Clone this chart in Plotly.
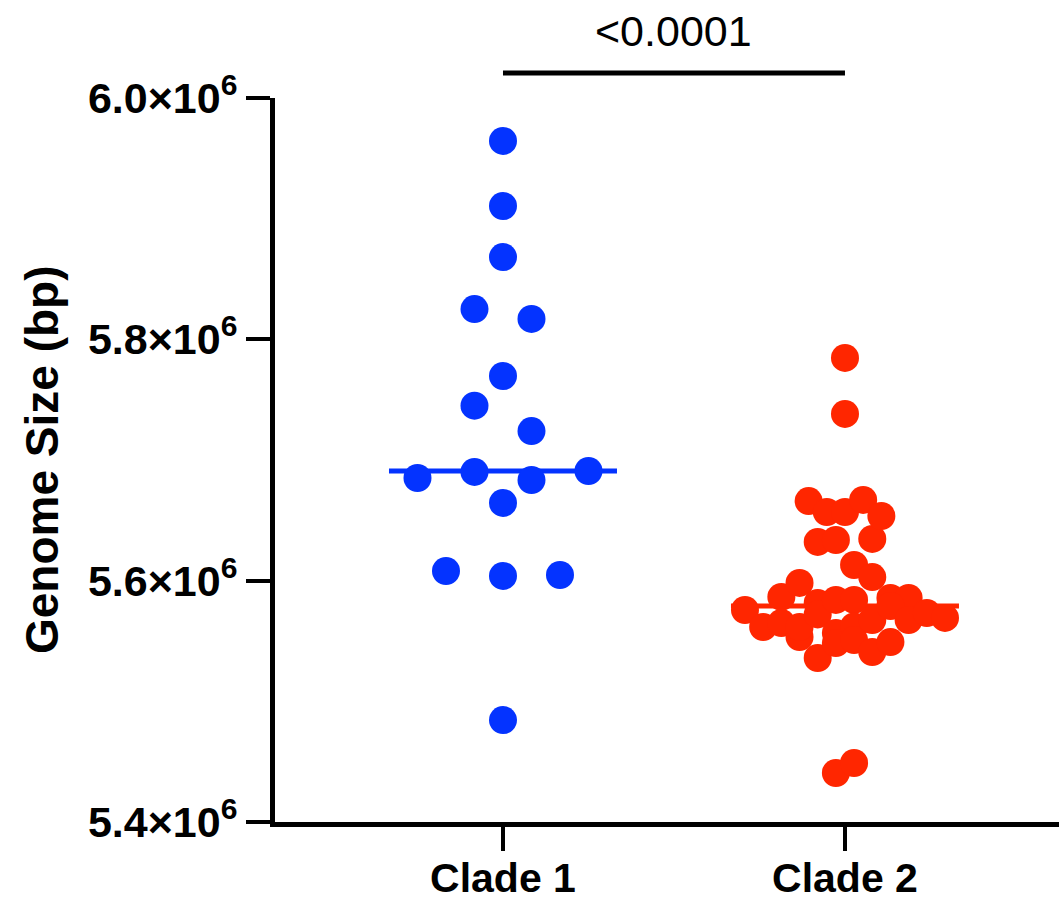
import numpy as np
import plotly.graph_objects as go

# ---------------- data ----------------
categories = ["Clade 1", "Clade 2"]
clade1_bp = [5.6851e6, 5.6080e6, 5.8251e6, 5.7450e6, 5.6901e6, 5.6644e6,
             5.9644e6, 5.9105e6, 5.8682e6, 5.7696e6, 5.6039e6, 5.4845e6,
             5.8169e6, 5.7240e6, 5.6834e6, 5.6047e6, 5.6909e6]
clade2_bp = [5.5757e6, 5.5616e6, 5.5649e6, 5.5865e6, 5.5533e6, 5.5981e6,
             5.5815e6, 5.5616e6, 5.5720e6, 5.6660e6, 5.5359e6, 5.5840e6,
             5.6321e6, 5.6569e6, 5.5840e6, 5.5566e6, 5.4406e6, 5.7846e6,
             5.7382e6, 5.6569e6, 5.6337e6, 5.6130e6, 5.6030e6, 5.5483e6,
             5.4489e6, 5.5620e6, 5.6669e6, 5.6346e6, 5.6536e6, 5.5508e6,
             5.5857e6, 5.5409e6, 5.5857e6, 5.5674e6, 5.5790e6, 5.5491e6,
             5.5674e6, 5.5732e6, 5.5691e6]
p_value_label = "<0.0001"
y_tickvals = [5.4e6, 5.6e6, 5.8e6, 6.0e6]
y_ticktext = ["5.4×10<sup>6</sup>", "5.6×10<sup>6</sup>", "5.8×10<sup>6</sup>", "6.0×10<sup>6</sup>"]
y_title = "Genome Size (bp)"

# ---------------- style ----------------
colors = ["#0433FF", "#FF2600"]
FONT = "Liberation Sans, Arial, sans-serif"
W, H = 1059, 902
ML, MR, MT, MB = 275, 0, 98, 80
X_RANGE = [1 / 3, 2.6258]
Y_RANGE = [5.4e6, 6.0e6]
MARKER = 28

plot_w = W - ML - MR
plot_h = H - MT - MB
px_per_xunit = plot_w / (X_RANGE[1] - X_RANGE[0])
px_per_yunit = plot_h / (Y_RANGE[1] - Y_RANGE[0])

row_h = 28.5 / px_per_yunit          # row height in data units (~ one marker)
max_step = 57 / px_per_xunit          # widest spacing between neighbours
half_spread = 100 / px_per_xunit      # max half-width of a swarm
med_half = 114 / px_per_xunit         # half-length of median bar


def swarm(values, center):
    """GraphPad-like row scatter: group values in rows, spread each row symmetrically."""
    vals = np.asarray(values, dtype=float)
    order = np.argsort(-vals, kind="stable")
    rows, cur, top = [], [], None
    for i in order:
        if top is None or top - vals[i] <= row_h:
            if top is None:
                top = vals[i]
            cur.append(i)
        else:
            rows.append(cur)
            cur, top = [i], vals[i]
    rows.append(cur)
    nmax = max(len(r) for r in rows)
    step = max_step if nmax < 2 else min(max_step, 2 * half_spread / (nmax - 1))
    xs = np.zeros(len(vals))
    for r in rows:
        r_sorted = sorted(r)          # keep list order left -> right
        n = len(r_sorted)
        for k, idx in enumerate(r_sorted):
            xs[idx] = center + (k - (n - 1) / 2) * step
    return xs


fig = go.Figure()
for ci, (vals, col) in enumerate(zip([clade1_bp, clade2_bp], colors)):
    c = ci + 1
    med = float(np.median(vals))
    fig.add_trace(go.Scatter(x=[c - med_half, c + med_half], y=[med, med], mode="lines",
                             line=dict(color=col, width=5), showlegend=False, hoverinfo="skip"))
    fig.add_trace(go.Scatter(x=swarm(vals, c), y=vals, mode="markers",
                             marker=dict(color=col, size=MARKER, line=dict(width=0)),
                             cliponaxis=False, showlegend=False, name=categories[ci]))

# significance bar and label
fig.add_shape(type="line", xref="x", yref="paper", x0=1, x1=2,
              y0=(H - MB - 73) / plot_h, y1=(H - MB - 73) / plot_h,
              line=dict(color="black", width=5))
fig.add_annotation(xref="x", yref="paper", x=1.5, y=(H - MB - 31) / plot_h,
                   text=p_value_label, showarrow=False, yanchor="middle",
                   font=dict(family=FONT, size=43, color="black"))
# y-axis title
fig.add_annotation(xref="paper", yref="paper", x=(42 - ML) / plot_w, y=0.5,
                   text=y_title, showarrow=False, textangle=-90,
                   xanchor="center", yanchor="middle",
                   font=dict(family=FONT, size=46, color="black", weight="bold"))

fig.update_layout(
    width=W, height=H, margin=dict(l=ML, r=MR, t=MT, b=MB, pad=0, autoexpand=False),
    paper_bgcolor="white", plot_bgcolor="white", showlegend=False,
    xaxis=dict(range=X_RANGE, tickvals=[1, 2], ticktext=categories, automargin=False,
               showline=True, linecolor="black", linewidth=5,
               ticks="outside", ticklen=24, tickwidth=4, tickcolor="black",
               showgrid=False, zeroline=False, ticklabelstandoff=-8,
               tickfont=dict(family=FONT, size=41, color="black", weight="bold")),
    yaxis=dict(range=Y_RANGE, tickvals=y_tickvals, ticktext=y_ticktext, automargin=False,
               showline=True, linecolor="black", linewidth=5,
               ticks="outside", ticklen=24, tickwidth=4, tickcolor="black",
               showgrid=False, zeroline=False,
               tickfont=dict(family=FONT, size=43, color="black", weight="bold")),
)

fig.write_html("out.html", config={"displayModeBar": False},
               post_script="document.body.style.margin='0';")
